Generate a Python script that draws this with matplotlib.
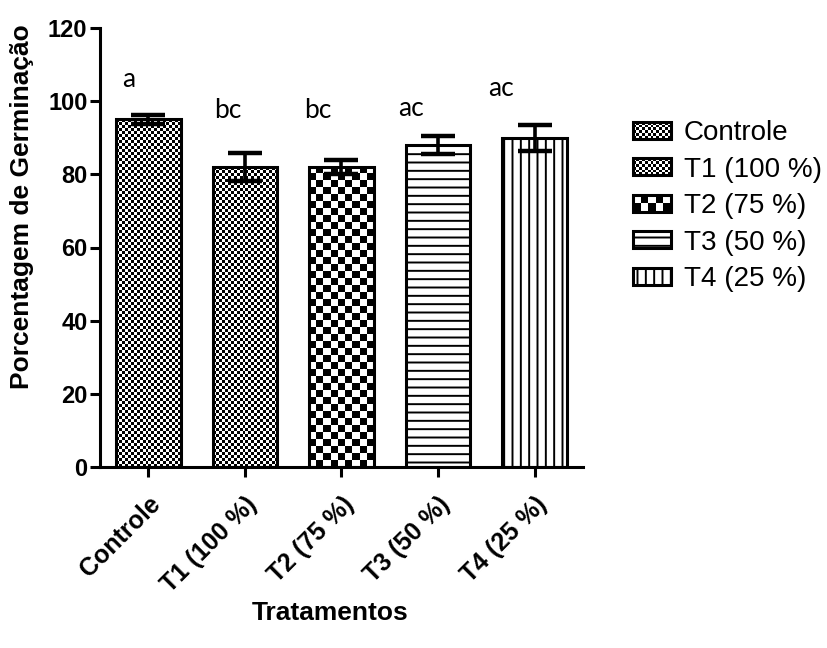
import numpy as np
import matplotlib
matplotlib.use("Agg")
import matplotlib.pyplot as plt
from matplotlib.patches import Patch, Rectangle
from matplotlib.legend_handler import HandlerBase

# ---- data ----
categories = ["Controle", "T1 (100 %)", "T2 (75 %)", "T3 (50 %)", "T4 (25 %)"]
means = [95.0, 82.0, 82.0, 88.0, 90.0]
errors = [1.2, 3.8, 2.0, 2.5, 3.5]
letters = ["a", "bc", "bc", "ac", "ac"]
letter_x = [-0.2, 0.82, 1.75, 2.72, 3.65]
letter_y = [106.0, 97.5, 97.5, 98.0, 103.5]
y_ticks = [0, 20, 40, 60, 80, 100, 120]

# ---- styles ----
DPI = 100
FIG_W, FIG_H = 828, 648
styles = [("checker", 3), ("checker", 3), ("checker", 7), ("hatch", "--"), ("hatch", "||")]
bar_w = 0.67
plt.rcParams["hatch.linewidth"] = 1.4
plt.rcParams["font.family"] = ["Liberation Sans", "DejaVu Sans"]

fig = plt.figure(figsize=(FIG_W / DPI, FIG_H / DPI), dpi=DPI)
ax_left, ax_bottom = 100 / FIG_W, 1 - 467 / FIG_H
ax_w, ax_h = 483 / FIG_W, 439 / FIG_H
ax = fig.add_axes([ax_left, ax_bottom, ax_w, ax_h])

x = np.arange(len(categories))
xlim = (-0.5, len(categories) - 0.5)
ylim = (0, 120)
px_per_x = 483 / (xlim[1] - xlim[0])
px_per_y = 439 / (ylim[1] - ylim[0])


def checker(ny, nx):
    jj, ii = np.meshgrid(np.arange(nx), np.arange(ny))
    return ((ii + jj) % 2).astype(float)


for i, (xi, m) in enumerate(zip(x, means)):
    kind, param = styles[i]
    if kind == "checker":
        base = ax.bar(xi, m, width=bar_w, color="white", edgecolor="none", zorder=1)[0]
        cell = param
        nx = max(1, int(round(bar_w * px_per_x / cell)))
        ny = max(1, int(round(m * px_per_y / cell)))
        ax.imshow(checker(ny, nx), cmap="gray_r", vmin=0, vmax=1,
                  extent=(xi - bar_w / 2, xi + bar_w / 2, 0, ny * cell / px_per_y),
                  origin="lower", interpolation="nearest", aspect="auto",
                  zorder=1.5, clip_path=base)
        ax.bar(xi, m, width=bar_w, color="none", edgecolor="black", linewidth=2.2, zorder=2)
    else:
        ax.bar(xi, m, width=bar_w, color="white", edgecolor="black", linewidth=2.2,
               hatch=param, zorder=2)

ax.errorbar(x, means, yerr=errors, fmt="none", ecolor="black", elinewidth=2.6,
            capsize=12.5, capthick=3.2, zorder=3)

for lx, ly, t in zip(letter_x, letter_y, letters):
    ax.text(lx, ly, t, fontsize=19, family=["Lato", "DejaVu Sans"], ha="center", va="center")

ax.set_xlim(*xlim)
ax.set_ylim(*ylim)
ax.set_yticks(y_ticks)
ax.set_xticks(x)
ax.set_xticklabels(categories, rotation=45, ha="right", va="top", rotation_mode="anchor",
                   fontsize=18, fontweight="bold")
for lab in ax.get_yticklabels():
    lab.set_fontsize(17)
    lab.set_fontweight("bold")
for s in ["top", "right"]:
    ax.spines[s].set_visible(False)
for s in ["left", "bottom"]:
    ax.spines[s].set_linewidth(2.2)
ax.tick_params(axis="both", direction="out", length=7, width=2.2, pad=2)
ax.tick_params(axis="x", pad=11)

fig.text(22 / FIG_W, 1 - 207 / FIG_H, "Porcentagem de Germinação", rotation=90,
         ha="center", va="center", fontsize=19, fontweight="bold")
fig.text(330 / FIG_W, 1 - 613 / FIG_H, "Tratamentos", ha="center", va="center",
         fontsize=19, fontweight="bold")


class CheckerHandler(HandlerBase):
    def __init__(self, cell_px):
        super().__init__()
        self.cell_px = cell_px

    def create_artists(self, legend, orig_handle, xdescent, ydescent, width, height,
                       fontsize, trans):
        x0, y0 = -xdescent, -ydescent
        cell = self.cell_px * 72 / DPI
        nx = max(1, int(round(width / cell)))
        ny = max(1, int(round(height / cell)))
        cw, ch = width / nx, height / ny
        arts = [Rectangle((x0, y0), width, height, facecolor="white", edgecolor="none",
                          transform=trans)]
        for a in range(nx):
            for b in range(ny):
                if (a + b) % 2 == 0:
                    arts.append(Rectangle((x0 + a * cw, y0 + b * ch), cw, ch,
                                          facecolor="black", edgecolor="none",
                                          transform=trans))
        arts.append(Rectangle((x0, y0), width, height, facecolor="none",
                              edgecolor="black", linewidth=2.2, transform=trans))
        return arts


handles = []
hmap = {}
for i, cat in enumerate(categories):
    kind, param = styles[i]
    if kind == "checker":
        h = Patch(facecolor="white", edgecolor="black", label=cat)
        hmap[h] = CheckerHandler(param if param > 3 else 3)
    else:
        h = Patch(facecolor="white", edgecolor="black", linewidth=2.2, hatch=param, label=cat)
    handles.append(h)

leg = fig.legend(handles=handles, loc="upper left", bbox_to_anchor=(633 / FIG_W, 1 - 120 / FIG_H),
                 frameon=False, fontsize=20, handlelength=1.37, handleheight=0.56,
                 handletextpad=0.45, labelspacing=0.38, handler_map=hmap, borderpad=0,
                 borderaxespad=0)

fig.savefig("out.png", dpi=DPI)
